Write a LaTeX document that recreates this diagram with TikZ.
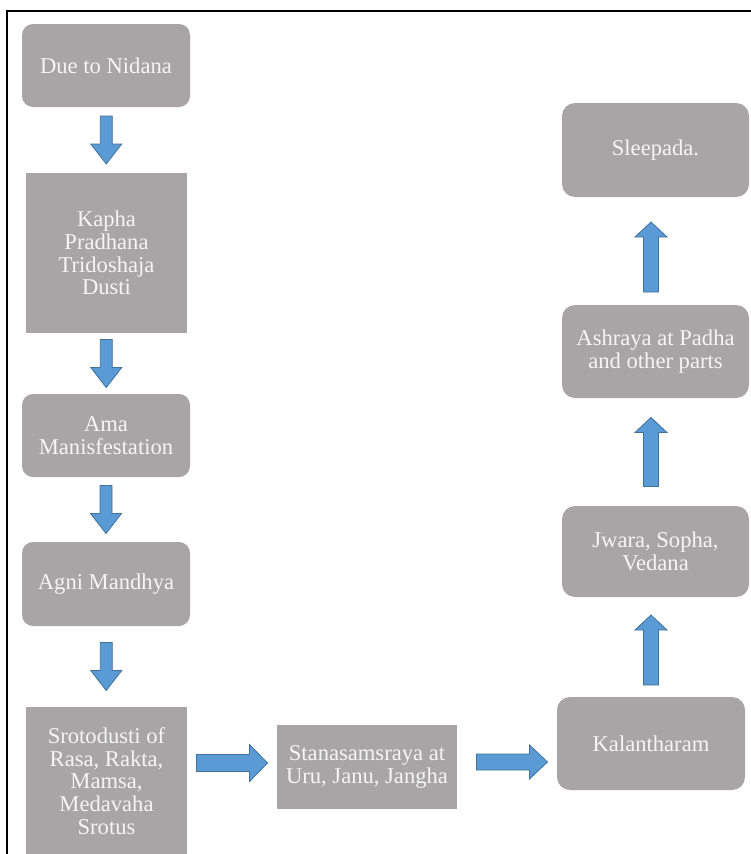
\documentclass[tikz,border=0pt]{standalone}
\usepackage{fontspec}
\setmainfont{Liberation Serif}
\usetikzlibrary{calc}
\definecolor{boxgray}{RGB}{167,165,165}
\definecolor{boxtext}{RGB}{245,245,245}
\definecolor{arrowblue}{RGB}{91,155,213}
\definecolor{arrowedge}{RGB}{65,113,156}
\tikzset{
  box/.style={fill=boxgray, text=boxtext, align=center, inner sep=0pt,
    font=\fontsize{22.6}{22.8}\selectfont},
  rbox/.style={box, rounded corners=11pt},
  barrow/.style={fill=arrowblue, draw=arrowedge, line width=0.8pt, line join=miter},
  pics/blockarrow/.style args={#1/#2/#3/#4}{code={
    % #1 length, #2 shaft half width, #3 head half width, #4 head length
    \draw[barrow] (-#1/2,-#2) -- (#1/2-#4,-#2) -- (#1/2-#4,-#3) -- (#1/2,0)
      -- (#1/2-#4,#3) -- (#1/2-#4,#2) -- (-#1/2,#2) -- cycle;
  }},
}
\begin{document}
\begin{tikzpicture}[x=1pt,y=-1pt]
\useasboundingbox (0,0) rectangle (751,854);
\fill[white] (0,0) rectangle (751,854);
\draw[line width=1.5pt, black] (7,856) -- (7,11) -- (753,11);

% left column
\node[rbox, minimum width=168pt, minimum height=83pt] (nidana) at (106,65.5) {Due to Nidana};
\node[box, minimum width=161pt, minimum height=160pt] (kapha) at (106.5,253) {Kapha\\Pradhana\\Tridoshaja\\Dusti};
\node[rbox, minimum width=168pt, minimum height=83pt] (ama) at (106,435.5) {Ama\\Manisfestation};
\node[rbox, minimum width=168pt, minimum height=84pt] (agni) at (106,584) {Agni Mandhya};
\node[box, minimum width=161pt, minimum height=148pt] (sroto) at (106.5,781) {Srotodusti of\\Rasa, Rakta,\\Mamsa,\\Medavaha\\Srotus};

% bottom row
\node[box, minimum width=180pt, minimum height=84pt] (stana) at (367,767) {Stanasamsraya at\\Uru, Janu, Jangha};
\node[rbox, rounded corners=13pt, minimum width=188pt, minimum height=93pt] (kala) at (651,743.5) {Kalantharam};

% right column
\node[rbox, rounded corners=13pt, minimum width=187pt, minimum height=91pt] (jwara) at (655.5,551.5) {Jwara, Sopha,\\Vedana};
\node[rbox, rounded corners=13pt, minimum width=187pt, minimum height=93pt] (ashraya) at (655.5,351.5) {Ashraya at Padha\\and other parts};
\node[rbox, rounded corners=13pt, minimum width=187pt, minimum height=94pt] (sleepada) at (655.5,150) {Sleepada.};

% down arrows (left column)
\pic[rotate=-90] at ($(nidana.south)!0.5!(kapha.north)$) {blockarrow={48/6/15.5/20}};
\pic[rotate=-90] at ($(kapha.south)!0.5!(ama.north)$) {blockarrow={48/6/15.5/20}};
\pic[rotate=-90] at ($(ama.south)!0.5!(agni.north)$) {blockarrow={48/6/15.5/20}};
\pic[rotate=-90] at ($(agni.south)!0.5!(sroto.north)$) {blockarrow={48/6/15.5/20}};

% right arrows (bottom row)
\pic at ($(sroto.east |- stana.center)!0.5!(stana.west)+(0,-4)$) {blockarrow={71/8.5/18.5/18}};
\pic at ($(stana.east)!0.5!(kala.west |- stana.center)+(5,-5)$) {blockarrow={71/8/17/18}};

% up arrows (right column)
\pic[rotate=90] at ($(kala.north)!0.5!(kala.north |- jwara.south)+(0,3)$) {blockarrow={70/7.5/16/15}};
\pic[rotate=90] at ($(kala.north |- jwara.north)!0.5!(kala.north |- ashraya.south)$) {blockarrow={69/7.5/16/15}};
\pic[rotate=90] at ($(kala.north |- ashraya.north)!0.5!(kala.north |- sleepada.south)+(0,6)$) {blockarrow={70/7.5/16/15}};
\end{tikzpicture}
\end{document}
